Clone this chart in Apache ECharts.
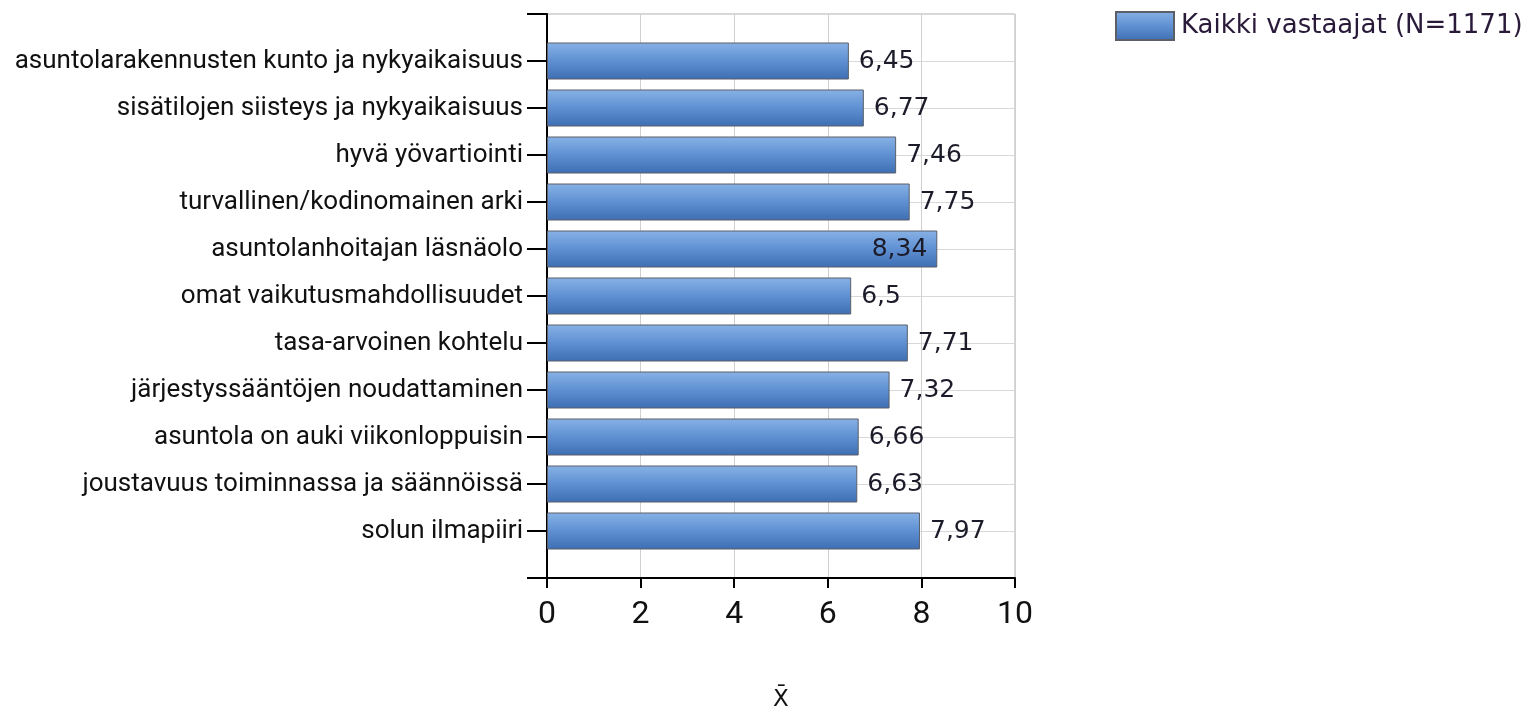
<!DOCTYPE html>
<html><head><meta charset="utf-8">
<script src="https://cdn.jsdelivr.net/npm/echarts@6/dist/echarts.min.js"></script>
<style>html,body{margin:0;padding:0;background:#fff}#c{width:1536px;height:717px}</style>
</head><body><div id="c"></div>
<script>
const categories = [
  'asuntolarakennusten kunto ja nykyaikaisuus',
  'sisätilojen siisteys ja nykyaikaisuus',
  'hyvä yövartiointi',
  'turvallinen/kodinomainen arki',
  'asuntolanhoitajan läsnäolo',
  'omat vaikutusmahdollisuudet',
  'tasa-arvoinen kohtelu',
  'järjestyssääntöjen noudattaminen',
  'asuntola on auki viikonloppuisin',
  'joustavuus toiminnassa ja säännöissä',
  'solun ilmapiiri'
];
const values = [6.45, 6.77, 7.46, 7.75, 8.34, 6.5, 7.71, 7.32, 6.66, 6.63, 7.97];
const seriesName = 'Kaikki vastaajat (N=1171)';
const xTicks = [0, 2, 4, 6, 8, 10];

const axisCats = [''].concat(categories, ['']);
const maxV = Math.max.apply(null, values);
const data = ['-'].concat(values.map(v => v === maxV ? {value: v, label: {position: 'insideRight', distance: 10}} : v), ['-']);

const barGrad = new echarts.graphic.LinearGradient(0, 0, 0, 1, [
  {offset: 0, color: '#88b2e6'},
  {offset: 0.5, color: '#5f90d2'},
  {offset: 1, color: '#3e6eb3'}
]);

const chart = echarts.init(document.getElementById('c'));
chart.setOption({
  animation: false,
  grid: {left: 547, right: 521, top: 14, bottom: 137, show: true, borderColor: '#a9b0bb', borderWidth: 1, containLabel: false},
  legend: {
    left: 1110, top: 6, itemWidth: 58, itemHeight: 28, icon: 'rect',
    textStyle: {fontFamily: 'DejaVu Sans', fontSize: 26, color: '#2a1a3a', padding: [0, 0, 0, 2]},
    data: [seriesName]
  },
  xAxis: {
    type: 'value', min: xTicks[0], max: xTicks[xTicks.length - 1], interval: 2,
    axisLine: {show: true, lineStyle: {color: '#000', width: 2}},
    axisTick: {show: true, length: 10, lineStyle: {color: '#000', width: 2}},
    axisLabel: {fontFamily: 'Roboto', fontSize: 32, color: '#111', margin: 21},
    splitLine: {show: true, lineStyle: {color: '#d0d0d0', width: 1}},
    name: 'X\u0304', nameLocation: 'middle', nameGap: 111,
    nameTextStyle: {fontFamily: 'DejaVu Sans', fontSize: 23, color: '#111'}
  },
  yAxis: {
    type: 'category', data: axisCats, inverse: true, boundaryGap: false,
    axisLine: {show: true, lineStyle: {color: '#000', width: 2}},
    axisTick: {show: true, length: 20, interval: 0, lineStyle: {color: '#000', width: 2}},
    axisLabel: {interval: 0, fontFamily: 'Roboto', fontSize: 26, color: '#111', margin: 24},
    splitLine: {show: true, interval: 0, lineStyle: {color: '#d8d8d8', width: 1}}
  },
  series: [{
    name: seriesName, type: 'bar', data: data, barWidth: 37,
    itemStyle: {color: barGrad, borderColor: '#5a5f68', borderWidth: 1},
    label: {
      show: true, position: 'right', distance: 10,
      formatter: p => String(p.value).replace('.', ','),
      fontFamily: 'DejaVu Sans', fontSize: 25, color: '#1b1b2a'
    }
  }]
});
</script></body></html>
